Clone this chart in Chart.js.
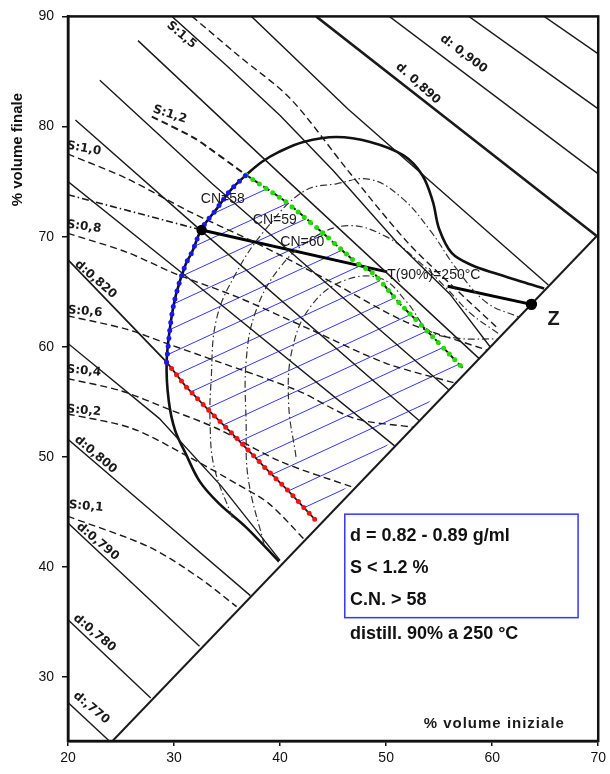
<!DOCTYPE html>
<html lang="it">
<head>
<meta charset="UTF-8">
<title>Gasolio - volume iniziale / finale</title>
<script src="https://cdn.jsdelivr.net/npm/chart.js"></script>
<style>
  html, body { margin: 0; padding: 0; background: #fff; }
  #wrap { width: 610px; height: 774px; }
</style>
</head>
<body>
<div id="wrap"><canvas id="chart" width="610" height="774"></canvas></div>
<script>
// ticks
const xTicks = [20, 30, 40, 50, 60, 70];
const yTicks = [30, 40, 50, 60, 70, 80, 90];

// volume finale = volume iniziale
const diagonal = [[24.2, 24.2], [70, 70.2]];

// iso-density lines (solid)
const d770 = [[20, 27.7], [23.9, 24.2]];
const d780 = [[20, 35.2], [27.8, 28.1]];
const d790 = [[20, 44.0], [32.4, 32.8]];
const d800 = [[20, 51.6], [28.6, 44.5], [37.2, 37.4]];
const d810 = [[20, 60.3], [28.6, 53.5], [34.5, 47.3], [40.0, 40.6]];
const d820 = [[20, 67.9], [29.3, 58.6]];
const d830 = [[20, 75.0], [31.4, 66.2], [50.8, 51.0]];
const d840 = [[20.7, 80.6], [32.6, 70.5], [53.1, 53.3]];
const d850 = [[23.0, 84.2], [33.6, 74.8], [55.9, 56.1]];
const d860 = [[26.6, 87.8], [40.0, 75.7], [58.8, 58.9]];
const d865 = [[29.8, 90], [35.0, 85.5], [40.0, 81.0], [45.0, 76.0], [51.0, 69.5], [56.0, 64.8], [59.8, 60.0]];
const d870 = [[37.3, 90], [46.4, 81.6], [65.3, 65.6]];
const d880 = [[43.4, 90], [56.0, 80.5], [69.8, 70.1]];
const d890 = [[50.3, 90], [70, 75.7]];
const d900 = [[57.8, 90], [70, 81.6]];
const d910 = [[64.9, 90], [70, 86.6]];

// sulphur lines (dashed)
const s01 = [[20, 44.6], [27.7, 41.8], [32.4, 39.0], [35.9, 36.4]];
const s02 = [[20, 53.9], [26.0, 52.6], [31.4, 50.0], [36.0, 47.5], [38.9, 45.8], [42.3, 42.5]];
const s04 = [[20, 57.1], [25.0, 56.0], [29.3, 54.4], [34.0, 52.6], [40.0, 49.6], [47.0, 47.2]];
const s06 = [[20, 62.8], [25.5, 61.6], [29.3, 60.3], [34.0, 58.7], [41.7, 56.0], [47.0, 53.5], [52.5, 52.7]];
const s08 = [[20, 70.3], [25.5, 68.6], [30.2, 66.6], [36.0, 64.5], [43.0, 61.5], [50.0, 58.5], [56.5, 56.7]];
const s10 = [[20, 77.5], [25.5, 75.3], [31.4, 72.3], [38.0, 69.3], [45.0, 65.8], [52.0, 62.2], [59.5, 59.7]];
const s12 = [[27.9, 80.9], [32.0, 78.9], [36.8, 75.6]];
const s15 = [[31.7, 90], [36.0, 86.5], [41.0, 82.5], [46.4, 76.0], [52.0, 69.5], [56.5, 65.3], [60.5, 61.7]];

// cetane number curves (dash-dot)
const cn58 = [[35.5, 44.5], [33.8, 49.0], [33.4, 53.0], [33.5, 57.0], [34.0, 62.5], [35.8, 66.6], [38.5, 70.5], [42.2, 74.1], [45.3, 74.8], [48.5, 75.2], [51.5, 73.5], [54.2, 70.5], [56.7, 67.0], [59.5, 64.0], [62.5, 62.7]];
const cn59 = [[38.5, 42.0], [37.0, 48.0], [36.8, 53.0], [36.8, 58.7], [37.7, 63.2], [39.9, 67.1], [43.0, 69.8], [46.4, 71.0], [50.0, 70.0], [53.0, 67.8], [55.5, 65.5], [58.0, 63.0], [60.6, 61.2]];
const cn60 = [[41.5, 50.0], [40.8, 55.0], [41.2, 60.0], [43.0, 63.8], [46.0, 66.0], [49.5, 66.2], [52.0, 64.0], [54.0, 61.5], [56.5, 60.8], [60.5, 60.7]];

// T(90%) = 250 C line and end point Z
const t90Left = [[20, 73.8], [32.6, 70.6]];
const t90Main = [[32.6, 70.6], [50.1, 66.8]];
const t90Right = [[55.8, 65.5], [63.7, 63.85]];
const cnPoint = [[32.6, 70.6]];
const zPoint = [[63.7, 63.85]];

// feasibility envelope
const envelope = [[39.9, 40.5], [36.8, 43.6], [34.2, 45.8], [32.4, 47.8], [31.1, 50.3], [30.1, 52.4], [29.5, 55.1], [29.3, 58.6], [29.7, 62.3], [30.2, 64.8], [31.1, 67.5], [31.7, 68.6], [32.6, 70.7], [34.0, 72.5], [35.4, 74.3], [36.8, 75.6], [38.3, 76.8], [39.9, 77.7], [42.2, 78.6], [45.3, 79.05], [48.5, 78.6], [51.6, 77.4], [53.4, 75.6], [54.4, 73.2], [55.0, 70.7], [56.2, 68.5], [58.1, 67.4], [60.5, 66.6], [62.8, 65.9], [64.9, 65.3]];

// boundaries of the hatched area
const blueEdge = envelope.slice(7, 16);
const greenEdge = [[36.8, 75.6], [40.5, 73.2], [43.6, 70.7], [47.1, 67.7], [48.9, 66.6], [51.3, 63.9], [53.7, 61.6], [57.2, 58.1]];
const redEdge = [[29.3, 58.6], [31.1, 56.4], [33.3, 54.2], [35.5, 52.1], [38.6, 49.0], [40.8, 46.9], [43.3, 44.3]];

const lineLabels = [
  { t: 'd:0,820', x: 22.6, y: 66.1, r: 41 },
  { t: 'd:0,800', x: 22.6, y: 50.2, r: 40 },
  { t: 'd:0,790', x: 22.8, y: 42.3, r: 40 },
  { t: 'd:0,780', x: 22.5, y: 34.0, r: 40 },
  { t: 'd:,770', x: 22.2, y: 27.2, r: 40 },
  { t: 'd: 0,900', x: 57.3, y: 86.6, r: 37 },
  { t: 'd. 0,890', x: 53.0, y: 83.9, r: 42 },
  { t: 'S:1,5', x: 30.7, y: 88.3, r: 40 },
  { t: 'S:1,2', x: 29.6, y: 81.1, r: 18 },
  { t: 'S:1,0', x: 21.5, y: 78.0, r: 10 },
  { t: 'S:0,8', x: 21.5, y: 70.9, r: 8 },
  { t: 'S:0,6', x: 21.6, y: 63.2, r: 5 },
  { t: 'S:0,4', x: 21.5, y: 57.8, r: 5 },
  { t: 'S:0,2', x: 21.5, y: 54.2, r: 5 },
  { t: 'S:0,1', x: 21.7, y: 45.5, r: 5 }
];

const plainLabels = [
  { t: 'CN=58', x: 34.6, y: 73.4, font: '14px "Liberation Sans"' },
  { t: 'CN=59', x: 39.5, y: 71.5, font: '14px "Liberation Sans"' },
  { t: 'CN=60', x: 42.1, y: 69.5, font: '14px "Liberation Sans"' },
  { t: 'T(90%)=250°C', x: 54.5, y: 66.5, font: '14px "Liberation Sans"' },
  { t: 'Z', x: 65.8, y: 62.5, font: 'bold 20px "Liberation Sans"' },
  { t: '% volume iniziale', x: 60.2, y: 25.75, font: 'bold 15px "Liberation Sans"', sp: '1px' }
];

const boxLines = ['d = 0.82 - 0.89 g/ml', 'S < 1.2 %', 'C.N. > 58'];
const boxFooter = 'distill. 90% a 250 °C';

const pts = arr => arr.map(([x, y]) => ({ x, y }));

function ln(arr, opt) {
  return Object.assign({
    data: pts(arr),
    borderColor: '#1a1a1a',
    borderWidth: 1.4,
    pointRadius: 0,
    tension: 0,
    fill: false,
    order: 5
  }, opt || {});
}

function hatchPattern() {
  const W = 52, H = 24;
  const c = document.createElement('canvas');
  c.width = W; c.height = H;
  const g = c.getContext('2d');
  g.strokeStyle = 'rgba(30,30,255,0.9)';
  g.lineWidth = 1;
  for (let n = 0; n <= 2; n++) {
    g.beginPath();
    g.moveTo(-2, n * H + 2 * H / W);
    g.lineTo(W + 2, n * H - H - 2 * H / W);
    g.stroke();
  }
  return g.createPattern(c, 'repeat');
}

const dashS = [7, 4];
const dashCN = [7, 3, 1.5, 3];
const dots = [0, 8];

const datasets = [
  // hatched feasible area
  ln([...blueEdge, ...greenEdge.slice(1), ...redEdge.slice().reverse()], {
    borderWidth: 0, borderColor: 'rgba(0,0,0,0)', fill: 'shape', backgroundColor: hatchPattern(), order: 20
  }),
  ln(diagonal, { borderWidth: 2 }),
  ln(d770), ln(d780), ln(d790), ln(d800), ln(d810),
  ln([...d820, ...redEdge.slice(1)], { borderWidth: 1.8 }),
  ln(d830), ln(d840), ln(d850), ln(d860), ln(d865), ln(d870),
  ln(d880, { borderWidth: 2.6 }),
  ln(d890), ln(d900), ln(d910),
  ln(s01, { borderDash: dashS, tension: 0.3 }),
  ln(s02, { borderDash: dashS, tension: 0.3 }),
  ln(s04, { borderDash: dashS, tension: 0.3 }),
  ln(s06, { borderDash: dashS, tension: 0.3 }),
  ln(s08, { borderDash: dashS, tension: 0.3 }),
  ln(s10, { borderDash: dashS, tension: 0.3 }),
  ln([...s12, ...greenEdge.slice(1)], { borderDash: dashS, borderWidth: 2, tension: 0.2 }),
  ln(s15, { borderDash: dashS, tension: 0.3 }),
  ln(cn58, { borderDash: dashCN, borderWidth: 1.2, borderColor: '#333', tension: 0.4 }),
  ln(cn59, { borderDash: dashCN, borderWidth: 1.2, borderColor: '#333', tension: 0.4 }),
  ln(cn60, { borderDash: dashCN, borderWidth: 1.2, borderColor: '#333', tension: 0.4 }),
  ln(t90Left, { borderDash: dashCN, borderWidth: 1.6 }),
  ln(t90Main, { borderWidth: 3, borderColor: '#000' }),
  ln(t90Right, { borderWidth: 3, borderColor: '#000' }),
  ln(envelope, { borderWidth: 2.6, borderColor: '#111', tension: 0.35 }),
  // coloured dotted boundaries
  ln(blueEdge, { borderColor: '#1515ff', borderWidth: 5, borderDash: dots, borderCapStyle: 'round', tension: 0.35, order: 2 }),
  ln(greenEdge, { borderColor: '#22dd00', borderWidth: 5, borderDash: dots, borderCapStyle: 'round', order: 2 }),
  ln(redEdge, { borderColor: '#ff1010', borderWidth: 5, borderDash: dots, borderCapStyle: 'round', order: 2 }),
  ln(cnPoint, { showLine: false, pointRadius: 4.5, pointBackgroundColor: '#000', pointBorderColor: '#000', order: 1 }),
  ln(zPoint, { showLine: false, pointRadius: 5, pointBackgroundColor: '#000', pointBorderColor: '#000', order: 1 })
];

const annotations = {
  id: 'annotations',
  afterDatasetsDraw(chart) {
    const { ctx, chartArea, scales: { x, y } } = chart;
    ctx.save();
    ctx.fillStyle = '#1a1a1a';
    ctx.textBaseline = 'middle';
    ctx.textAlign = 'center';

    lineLabels.forEach(l => {
      ctx.save();
      ctx.translate(x.getPixelForValue(l.x), y.getPixelForValue(l.y));
      ctx.rotate(l.r * Math.PI / 180);
      ctx.font = 'bold 12px "DejaVu Sans"';
      ctx.fillText(l.t, 0, 0);
      ctx.restore();
    });

    plainLabels.forEach(l => {
      ctx.font = l.font;
      ctx.letterSpacing = l.sp || '0px';
      ctx.fillText(l.t, x.getPixelForValue(l.x), y.getPixelForValue(l.y));
    });
    ctx.letterSpacing = '0px';

    // requirement box
    const bx = x.getPixelForValue(46.1), by = y.getPixelForValue(44.8);
    const bw = x.getPixelForValue(68.1) - bx, bh = y.getPixelForValue(35.4) - by;
    ctx.fillStyle = '#fff';
    ctx.fillRect(bx, by, bw, bh);
    ctx.strokeStyle = '#3535ff';
    ctx.lineWidth = 1.5;
    ctx.strokeRect(bx, by, bw, bh);
    ctx.fillStyle = '#111';
    ctx.textAlign = 'left';
    ctx.font = 'bold 18px "Liberation Sans"';
    [42.85, 39.9, 37.0].forEach((v, i) => {
      ctx.fillText(boxLines[i], x.getPixelForValue(46.6), y.getPixelForValue(v));
    });
    ctx.fillText(boxFooter, x.getPixelForValue(46.6), y.getPixelForValue(33.9));

    // y title
    ctx.save();
    ctx.translate(chartArea.left - 50, y.getPixelForValue(77.9));
    ctx.rotate(-Math.PI / 2);
    ctx.textAlign = 'center';
    ctx.font = 'bold 15px "Liberation Sans"';
    ctx.fillText('% volume finale', 0, 0);
    ctx.restore();

    // frame
    ctx.strokeStyle = '#111';
    ctx.lineWidth = 2.5;
    ctx.strokeRect(chartArea.left, chartArea.top, chartArea.right - chartArea.left, chartArea.bottom - chartArea.top);
    ctx.restore();
  }
};

new Chart(document.getElementById('chart').getContext('2d'), {
  type: 'line',
  data: { datasets },
  options: {
    responsive: false,
    animation: false,
    events: [],
    layout: { padding: { top: 14, right: 8, left: 0, bottom: 0 } },
    plugins: { legend: { display: false }, tooltip: { enabled: false } },
    scales: {
      x: {
        type: 'linear', min: 20, max: 70,
        afterBuildTicks: s => { s.ticks = xTicks.map(v => ({ value: v })); },
        afterFit: s => { s.height = 33; },
        ticks: { font: { family: 'Liberation Sans', size: 14 }, color: '#111', padding: 4, maxRotation: 0 },
        grid: { drawOnChartArea: false, tickLength: 5, color: '#111', lineWidth: 1.5 },
        border: { color: '#111', width: 2.5 }
      },
      y: {
        type: 'linear', min: 24.2, max: 90,
        afterBuildTicks: s => { s.ticks = yTicks.map(v => ({ value: v })); },
        afterFit: s => { s.width = 68; },
        ticks: { font: { family: 'Liberation Sans', size: 14 }, color: '#111', padding: 8 },
        grid: { drawOnChartArea: false, tickLength: 6, color: '#111', lineWidth: 1.5 },
        border: { color: '#111', width: 2.5 }
      }
    }
  },
  plugins: [annotations]
});
</script>
</body>
</html>
